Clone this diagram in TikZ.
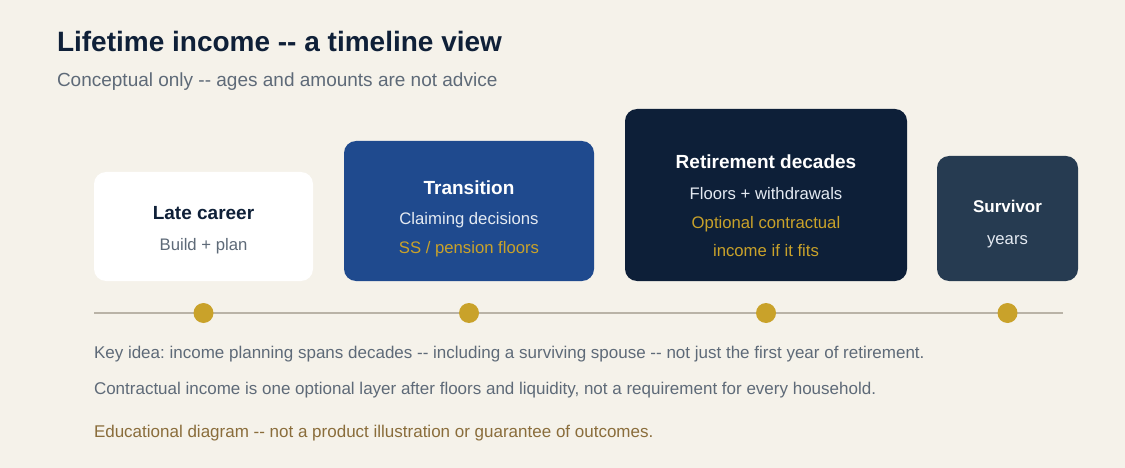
\documentclass[tikz,border=0pt]{standalone}
\usepackage{fontspec}
\setmainfont{Liberation Sans}[Ligatures=TeXOff]
\usetikzlibrary{positioning}
\frenchspacing

\definecolor{paper}{HTML}{F5F2EA}
\definecolor{ink}{HTML}{0F2038}
\definecolor{mute}{HTML}{5E6A78}
\definecolor{midblue}{HTML}{1F4A8E}
\definecolor{deepnavy}{HTML}{0D1F38}
\definecolor{slate}{HTML}{263B51}
\definecolor{pale}{HTML}{E4EAF2}
\definecolor{gold}{HTML}{C9A22A}
\definecolor{rule}{HTML}{B9B3A7}
\definecolor{bronze}{HTML}{8A6D3B}

\begin{document}
\begin{tikzpicture}[
    x=1pt, y=-1pt,
    every node/.style={inner sep=0pt, outer sep=0pt},
    stage/.style={rounded corners=12pt, draw=none},
    head/.style={font=\fontsize{19}{22}\selectfont\bfseries, anchor=base},
    line/.style={font=\fontsize{16.7}{20}\selectfont, anchor=base},
    note/.style={font=\fontsize{17}{20}\selectfont, anchor=base west, text=mute},
    dot/.style={circle, fill=gold, minimum size=20pt}
]

    % canvas
    \fill[paper] (0,0) rectangle (1125,468);
    \useasboundingbox (0,0) rectangle (1125,468);

    % heading
    \node[anchor=base west, text=ink, font=\fontsize{28}{32}\selectfont\bfseries]
        (title) at (57,52) {Lifetime income -- a timeline view};
    \node[anchor=base west, text=mute, font=\fontsize{19}{22}\selectfont]
        (sub) at (57,87) {Conceptual only -- ages and amounts are not advice};

    % stage boxes
    \node[stage, fill=white, minimum width=219pt, minimum height=109pt]
        (late) at (203.5,226.5) {};
    \node[stage, fill=midblue, minimum width=250pt, minimum height=140pt]
        (trans) at (469,211) {};
    \node[stage, fill=deepnavy, minimum width=282pt, minimum height=172pt]
        (retire) at (766,195) {};
    \node[stage, fill=slate, minimum width=141pt, minimum height=125pt]
        (surv) at (1007.5,218.5) {};

    % box texts
    \node[head, text=ink] (lateA) at (203.5,219) {Late career};
    \node[line, text=mute] (lateB) at (203.5,250) {Build + plan};

    \node[head, text=white] (transA) at (469,194) {Transition};
    \node[line, text=pale] (transB) at (469,225) {Claiming decisions};
    \node[line, text=gold] (transC) at (469,253) {SS / pension floors};

    \node[head, text=white] (retA) at (766,169) {Retirement decades};
    \node[line, text=pale] (retB) at (766,200) {Floors + withdrawals};
    \node[line, text=gold] (retC) at (766,228) {Optional contractual};
    \node[line, text=gold] (retD) at (766,256) {income if it fits};

    \node[head, text=white, font=\fontsize{17}{20}\selectfont\bfseries]
        (survA) at (1007.5,212) {Survivor};
    \node[line, text=pale] (survB) at (1007.5,244) {years};

    % timeline
    \coordinate (tlL) at (94,313);
    \coordinate (tlR) at (1063,313);
    \draw[rule, line width=1.6pt] (tlL) -- (tlR);

    \node[dot] (d1) at (late.center |- tlL) {};
    \node[dot] (d2) at (trans.center |- tlL) {};
    \node[dot] (d3) at (retire.center |- tlL) {};
    \node[dot] (d4) at (surv.center |- tlL) {};

    % notes
    \node[note] (n1) at (94,358) {Key idea: income planning spans decades -- including a surviving spouse -- not just the first year of retirement.};
    \node[note] (n2) at (94,394) {Contractual income is one optional layer after floors and liquidity, not a requirement for every household.};
    \node[note, text=bronze] (n3) at (94,437) {Educational diagram -- not a product illustration or guarantee of outcomes.};

\end{tikzpicture}
\end{document}
